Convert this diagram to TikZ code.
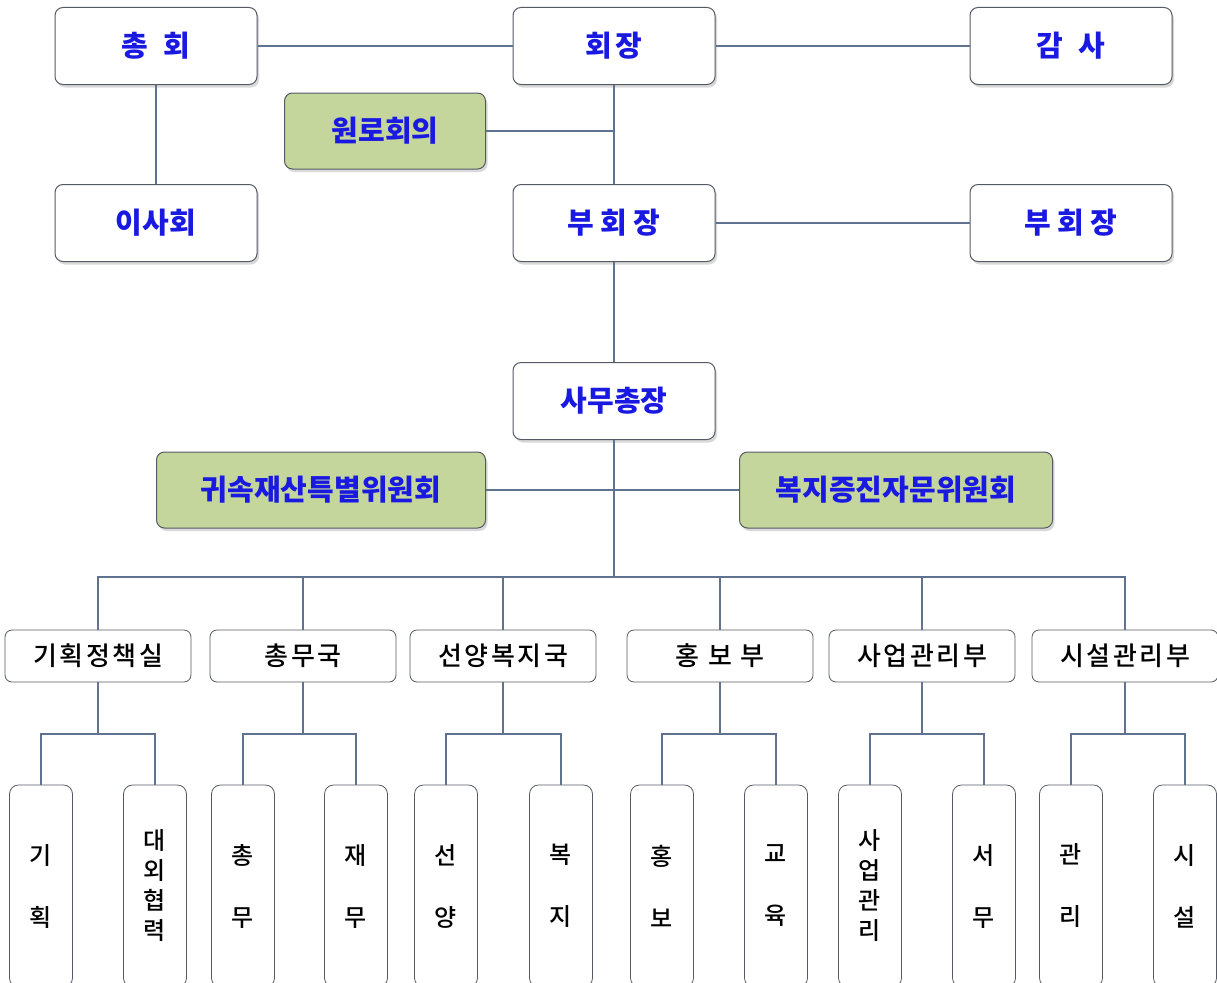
\documentclass[tikz,border=0pt]{standalone}
\usepackage{fontspec}
\setmainfont{Noto Sans CJK KR}
\newfontfamily\deptfont{Noto Sans CJK KR}[UprightFont=* Medium, LetterSpace=10]
\newfontfamily\unitfont{Noto Sans CJK KR}[UprightFont=* Medium]
\usetikzlibrary{shadows}

\definecolor{orgblue}{RGB}{25,25,225}
\definecolor{oldgreen}{RGB}{196,214,155}
\definecolor{boxgray}{RGB}{85,90,100}
\definecolor{linkcol}{RGB}{95,115,145}

\tikzset{
  topbox/.style={draw=boxgray, fill=white, rounded corners=8pt, line width=1pt,
    minimum width=202pt, minimum height=77pt, inner sep=0pt,
    font=\fontsize{29}{34}\selectfont\bfseries, text=orgblue,
    drop shadow={shadow xshift=2pt, shadow yshift=-3pt, opacity=0.25, fill=black!60}},
  greenbox/.style={topbox, fill=oldgreen, minimum height=76pt},
  deptbox/.style={draw=boxgray, fill=white, rounded corners=7pt, line width=0.8pt,
    minimum width=186pt, minimum height=52pt, inner sep=0pt,
    font=\fontsize{26}{30}\deptfont},
  unitbox/.style={draw=boxgray, fill=white, rounded corners=9pt, line width=0.8pt,
    minimum width=63pt, minimum height=202pt, inner sep=0pt, align=center,
    font=\fontsize{24}{30}\unitfont},
  link/.style={draw=linkcol, line width=1.1pt}
}

\begin{document}
\begin{tikzpicture}[x=1pt,y=-1pt]
  \useasboundingbox (0,0) rectangle (1217,982);
  \clip (0,0) rectangle (1217,982);

  % upper part
  \node[topbox] (chonghoe) at (156,46) {총\hspace{0.55em}회};
  \node[topbox] (hoejang) at (614,46) {회\hspace{0.1em}장};
  \node[topbox] (gamsa) at (1071,46) {감\hspace{0.55em}사};
  \node[greenbox, minimum width=201pt] (wonro) at (385,131) {원로회의};
  \node[topbox] (isahoe) at (156,223) {이사회};
  \node[topbox] (buhoejang) at (614,223) {부 회 장};
  \node[topbox] (buhoejangR) at (1071,223) {부 회 장};
  \node[topbox] (samu) at (614,401) {사무총장};
  \node[greenbox, minimum width=329pt] (gwisok) at (321,490) {귀속재산특별위원회};
  \node[greenbox, minimum width=313pt] (bokji) at (896,490) {복지증진자문위원회};

  \draw[link] (chonghoe) -- (hoejang);
  \draw[link] (hoejang) -- (gamsa);
  \draw[link] (chonghoe) -- (isahoe);
  \draw[link] (hoejang) -- (buhoejang);
  \draw[link] (wonro) -- (wonro -| hoejang);
  \draw[link] (buhoejang) -- (buhoejangR);
  \draw[link] (buhoejang) -- (samu);
  \draw[link] (gwisok) -- (bokji);

  \coordinate (bus) at (614,577);
  \draw[link] (samu) -- (bus);

  % departments
  \foreach \i/\x/\name in {1/98/기획정책실, 2/303/총무국, 3/503/선양복지국,
                           4/720/홍 보 부, 5/922/사업관리부, 6/1125/시설관리부}{
    \node[deptbox] (m\i) at (\x,656) {\name};
    \draw[link] (m\i) |- (bus);
  }

  % units
  \node[unitbox] (ua1) at (41,886) {기\\[32pt]획};
  \node[unitbox] (ub1) at (155,886) {대\\외\\협\\력};
  \node[unitbox] (ua2) at (243,886) {총\\[32pt]무};
  \node[unitbox] (ub2) at (356,886) {재\\[32pt]무};
  \node[unitbox] (ua3) at (446,886) {선\\[32pt]양};
  \node[unitbox] (ub3) at (561,886) {복\\[32pt]지};
  \node[unitbox] (ua4) at (662,886) {홍\\[32pt]보};
  \node[unitbox] (ub4) at (776,886) {교\\[32pt]육};
  \node[unitbox] (ua5) at (870,886) {사\\업\\관\\리};
  \node[unitbox] (ub5) at (984,886) {서\\[32pt]무};
  \node[unitbox] (ua6) at (1071,886) {관\\[32pt]리};
  \node[unitbox] (ub6) at (1185,886) {시\\[32pt]설};

  \foreach \i in {1,...,6}{
    \coordinate (s\i) at (m\i.south |- 0,734);
    \draw[link] (m\i) -- (s\i);
    \draw[link] (ua\i) |- (s\i);
    \draw[link] (ub\i) |- (s\i);
  }
\end{tikzpicture}
\end{document}
